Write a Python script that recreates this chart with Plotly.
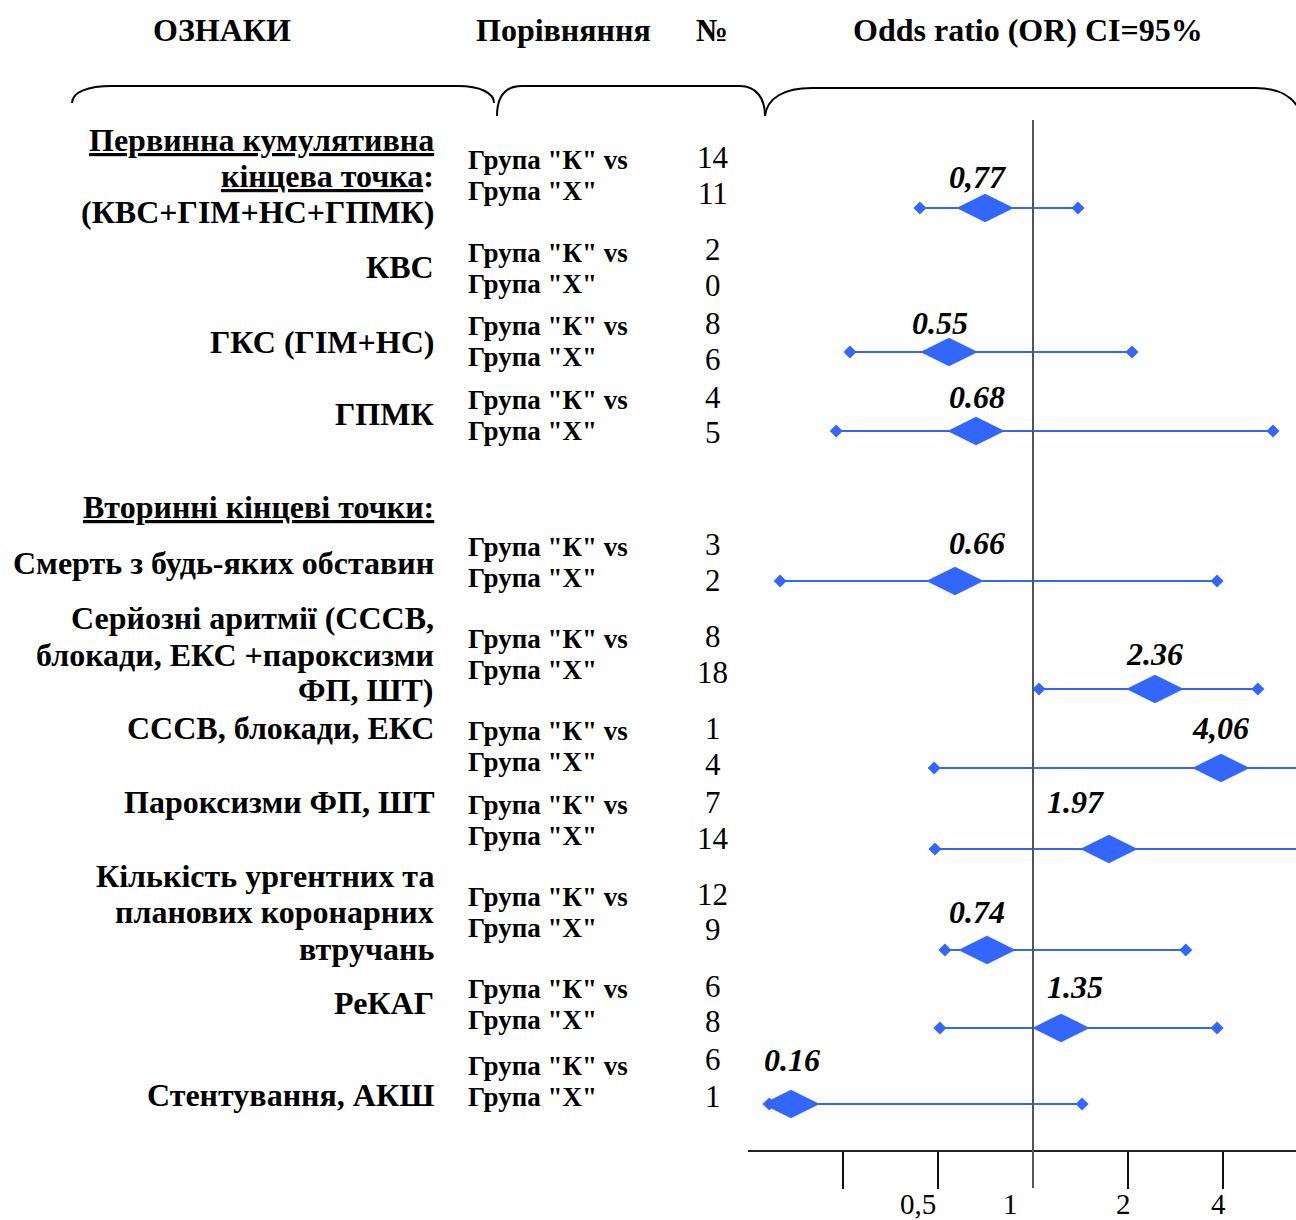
import math
import plotly.graph_objects as go

W, H = 1296, 1220

# ---------------- data ----------------
row_labels = [
    ["<u>Первинна кумулятивна</u>", "<u>кінцева точка</u>:", "(КВС+ГІМ+НС+ГПМК)"],
    ["КВС"],
    ["ГКС (ГІМ+НС)"],
    ["ГПМК"],
    ["Смерть з будь-яких обставин"],
    ["Серйозні аритмії (СССВ,", "блокади, ЕКС +пароксизми", "ФП, ШТ)"],
    ["СССВ, блокади, ЕКС"],
    ["Пароксизми ФП, ШТ"],
    ["Кількість ургентних та", "планових коронарних", "втручань"],
    ["РеКАГ"],
    ["Стентування, АКШ"],
]
section_label = "<u>Вторинні кінцеві точки:</u>"
group_k = 'Група "К" vs'
group_x = 'Група "Х"'
n_k = [14, 2, 8, 4, 3, 8, 1, 7, 12, 6, 6]
n_x = [11, 0, 6, 5, 2, 18, 4, 14, 9, 8, 1]
or_text = ["0,77", None, "0.55", "0.68", "0.66", "2.36", "4,06", "1.97", "0.74", "1.35", "0.16"]
or_est = [0.705, None, 0.542, 0.660, 0.566, 2.435, 3.94, 1.74, 0.715, 1.227, 0.171]
ci_low = [0.438, None, 0.263, 0.238, 0.158, 1.045, 0.486, 0.489, 0.526, 0.507, 0.146]
ci_high = [1.389, None, 2.059, 5.76, 3.83, 5.16, 7.5, 7.5, 3.05, 3.83, 1.43]
tick_vals = [0.25, 0.5, 1, 2, 4]
tick_text = ["", "0,5", "1", "2", "4"]
headers = ["ОЗНАКИ", "Порівняння", "№", "Odds ratio (OR) CI=95%"]

# ---------------- layout / positions (pixels) ----------------
row_y = [208, None, 352, 431, 581, 689, 768, 849, 950, 1028, 1104]
label_line_y = [[140, 176, 212], [267], [342], [414], [563], [618, 655, 690],
                [728], [802], [876, 912, 949], [1003], [1095]]
section_y = 507
gk_y = [160, 253, 326, 400, 547, 639, 731, 805, 897, 989, 1066]
gx_gap = 31
nk_y = [157, 249, 323, 397, 544, 636, 728, 802, 894, 986, 1059]
nx_y = [193, 285, 359, 432, 580, 672, 764, 838, 929, 1021, 1096]
or_label_shift = [(-7, 31), None, (-9, 29), (1, 34), (22, 38), (0, 35), (0, 40),
                  (-33, 47), (-10, 38), (14, 41), (1, 44)]
tick_label_shift = [0, -20, -23, -5, -5]
header_x = [222, 563, 712, 1028]

BLUE = "#3366FF"
SERIF = "Liberation Serif"
PX_PER_DOUBLING = 95.0
X_ONE = 1033
AX_LEFT = 748
AXIS_Y = 1151


def px2log(p):
    return (p - X_ONE) / PX_PER_DOUBLING * math.log10(2)


def pxp(x):
    return x / W


def pyp(y):
    return (H - y) / H


fig = go.Figure()

# CI lines with end diamonds
cx, cy = [], []
for lo, hi, y in zip(ci_low, ci_high, row_y):
    if lo is None:
        continue
    cx += [lo, hi, None]
    cy += [y, y, None]
fig.add_trace(go.Scatter(x=cx, y=cy, mode="lines+markers",
                         line=dict(color=BLUE, width=2),
                         marker=dict(symbol="diamond", size=10, color=BLUE),
                         hoverinfo="skip", showlegend=False))

# point estimates
ox = [v for v in or_est if v is not None]
oy = [y for v, y in zip(or_est, row_y) if v is not None]
fig.add_trace(go.Scatter(x=ox, y=oy, mode="markers",
                         marker=dict(symbol="diamond-wide", size=41, color=BLUE,
                                     line=dict(width=0)),
                         hoverinfo="skip", showlegend=False))

ann = []
# headers
for t, hx in zip(headers, header_x):
    ann.append(dict(text=f"<b>{t}</b>", x=pxp(hx), y=30, xref="paper", yref="y",
                    xanchor="center", yanchor="middle", showarrow=False,
                    font=dict(family=SERIF, size=32, color="black")))

# row labels
for lines, ys in zip(row_labels, label_line_y):
    for t, yy in zip(lines, ys):
        ann.append(dict(text=f"<b>{t}</b>", x=pxp(436), y=yy, xref="paper", yref="y",
                        xanchor="right", yanchor="middle", showarrow=False,
                        font=dict(family=SERIF, size=32, color="black")))
ann.append(dict(text=f"<b>{section_label}</b>", x=pxp(436), y=section_y, xref="paper",
                yref="y", xanchor="right", yanchor="middle", showarrow=False,
                font=dict(family=SERIF, size=32, color="black")))

# group comparison + numbers
for i in range(len(n_k)):
    for t, yy in ((group_k, gk_y[i]), (group_x, gk_y[i] + gx_gap)):
        ann.append(dict(text=f"<b>{t}</b>", x=pxp(466), y=yy, xref="paper", yref="y",
                        xanchor="left", yanchor="middle", showarrow=False,
                        font=dict(family=SERIF, size=27, color="black")))
    for v, yy in ((n_k[i], nk_y[i]), (n_x[i], nx_y[i])):
        ann.append(dict(text=str(v), x=pxp(713), y=yy, xref="paper", yref="y",
                        xanchor="center", yanchor="middle", showarrow=False,
                        font=dict(family=SERIF, size=31, color="black")))

# OR value labels
for t, v, y, sh in zip(or_text, or_est, row_y, or_label_shift):
    if t is None:
        continue
    ann.append(dict(text=f"<b><i>{t}</i></b>", x=math.log10(v), y=y - sh[1],
                    xref="x", yref="y", xshift=sh[0], xanchor="center",
                    yanchor="middle", showarrow=False,
                    font=dict(family=SERIF, size=32, color="black")))

# tick labels
for v, t, s in zip(tick_vals, tick_text, tick_label_shift):
    if not t:
        continue
    ann.append(dict(text=t, x=math.log10(v), y=1204, xref="x", yref="y", xshift=s,
                    xanchor="center", yanchor="middle", showarrow=False,
                    font=dict(family=SERIF, size=29, color="black")))

# braces
def path(cmds):
    out = []
    for c in cmds:
        op, pts = c[0], c[1:]
        out.append(op + " ".join(f"{pxp(a):.5f},{b}" for a, b in pts))
    return " ".join(out)

braces = [
    [("M", (72, 103)), ("C", (72, 92), (88, 86), (112, 86)), ("L", (458, 86)),
     ("C", (480, 86), (494, 93), (494, 103))],
    [("M", (497, 116)), ("C", (497, 97), (504, 86), (522, 86)), ("L", (740, 86)),
     ("C", (756, 86), (765, 98), (765, 116))],
    [("M", (765, 116)), ("C", (767, 98), (784, 88), (812, 88)), ("L", (1255, 88)),
     ("C", (1276, 88), (1290, 95), (1297, 106))],
]
shapes = []
for b in braces:
    shapes.append(dict(type="path", path=path(b), xref="paper", yref="y",
                       line=dict(color="black", width=2)))

# reference line at OR = 1
shapes.append(dict(type="line", x0=1, x1=1, xref="x", yref="paper",
                   y0=pyp(1188), y1=pyp(120),
                   line=dict(color="#555555", width=2)))

fig.update_layout(
    width=W, height=H,
    margin=dict(l=0, r=0, t=0, b=0),
    paper_bgcolor="white", plot_bgcolor="white",
    showlegend=False,
    annotations=ann, shapes=shapes,
    xaxis=dict(type="log", domain=[pxp(AX_LEFT), 1],
               range=[px2log(AX_LEFT), px2log(W)],
               anchor="free", position=pyp(AXIS_Y),
               showline=True, linecolor="#222222", linewidth=1.5,
               ticks="outside", ticklen=37, tickwidth=1.5, tickcolor="#111111",
               tickvals=[v for v in tick_vals if v != 1],
               showticklabels=False, showgrid=False, zeroline=False, fixedrange=True),
    yaxis=dict(range=[H, 0], domain=[0, 1], visible=False, fixedrange=True),
)

fig.write_html(
    "out.html",
    config={"displayModeBar": False},
    post_script="document.body.style.margin='0px';document.body.style.overflow='hidden';",
)
